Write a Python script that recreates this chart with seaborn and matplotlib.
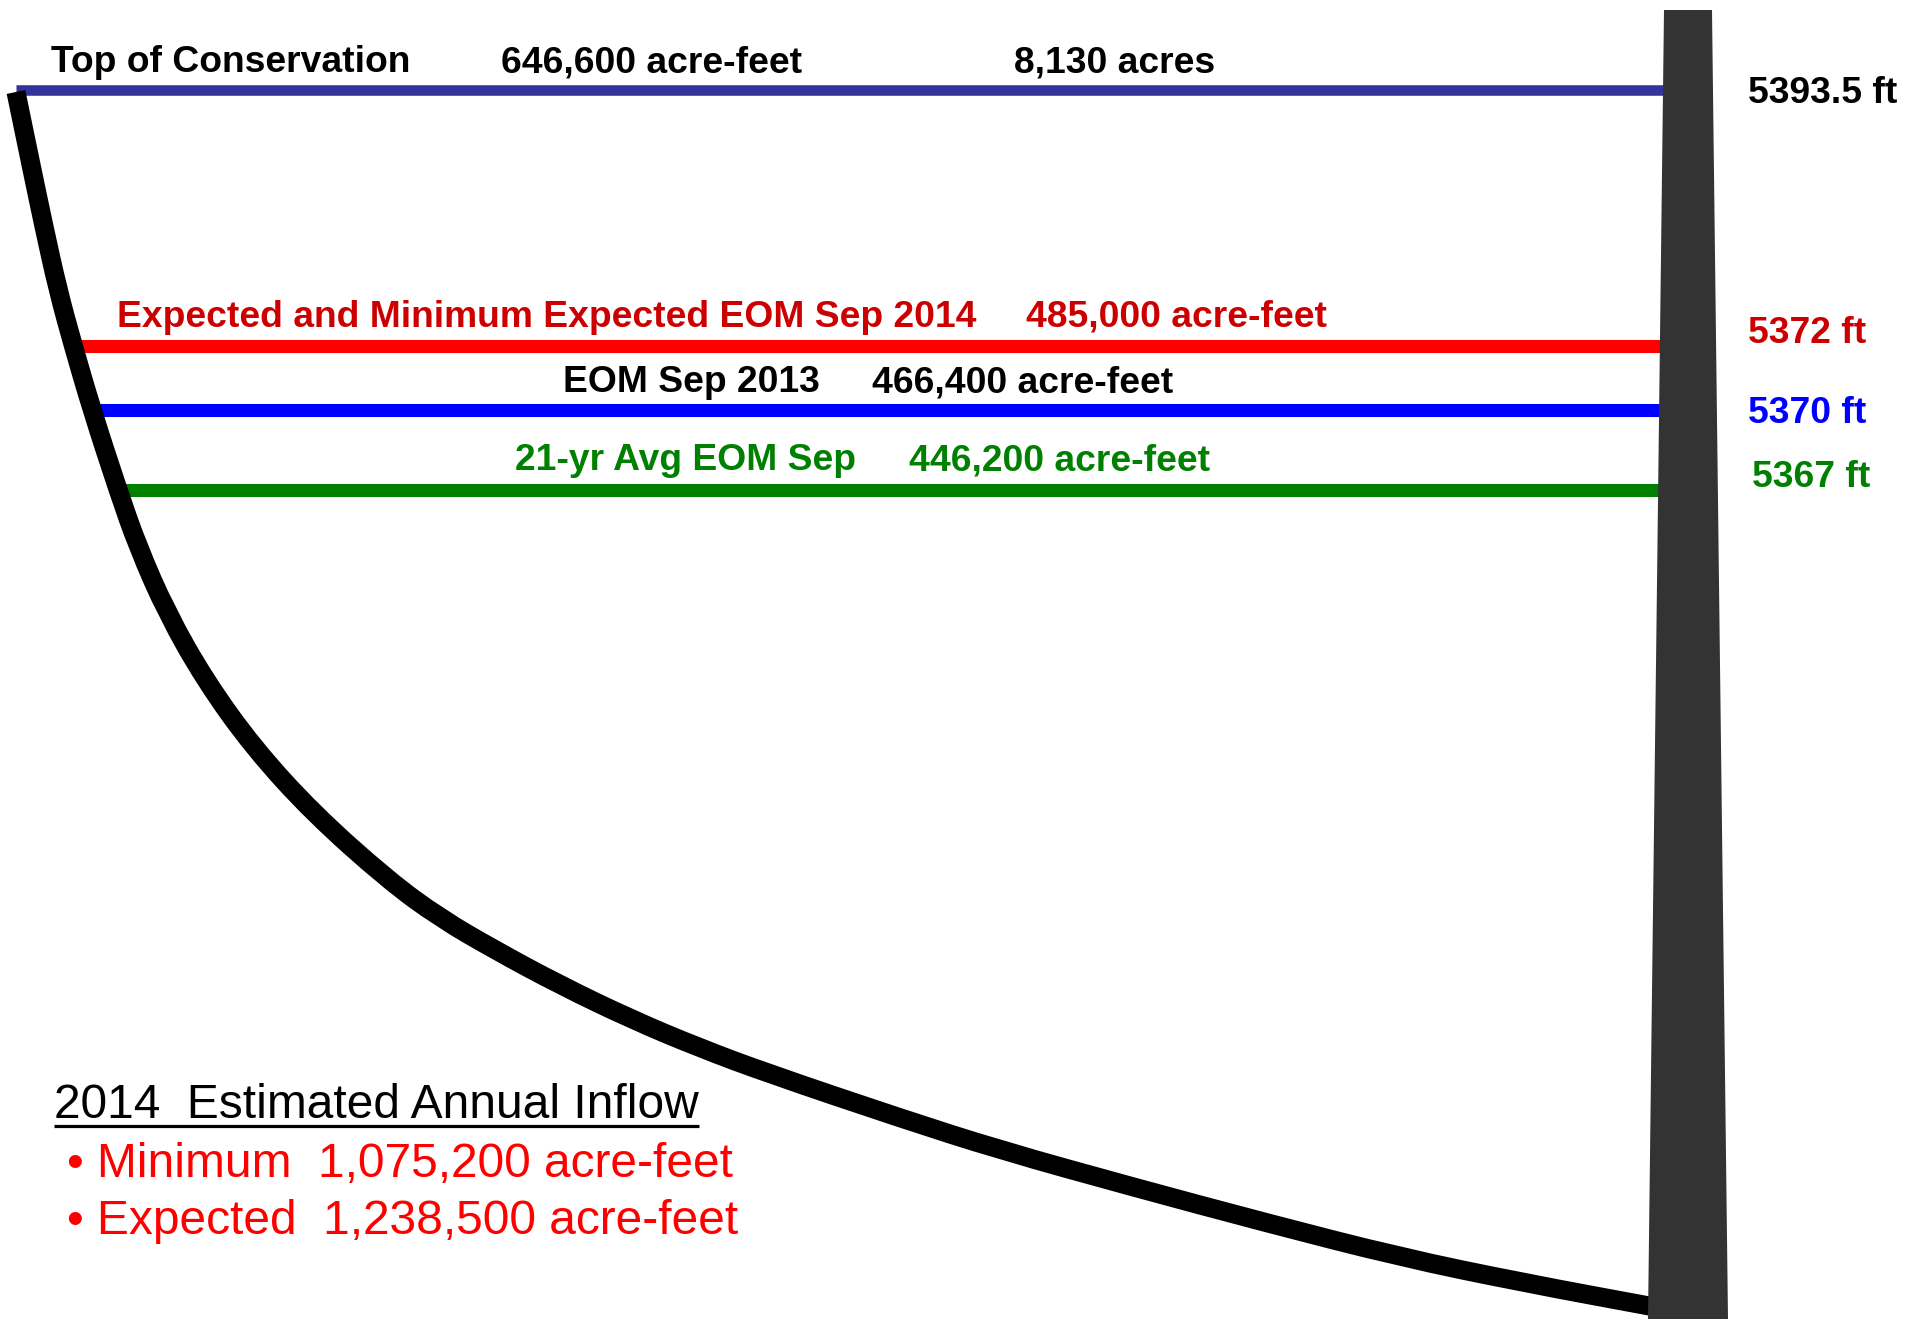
import numpy as np
import pandas as pd
import matplotlib
matplotlib.use("Agg")
import matplotlib.pyplot as plt
from matplotlib.path import Path
from matplotlib.patches import PathPatch
import seaborn as sns

# ---------------- data ----------------
level_names = ["Top of Conservation",
               "Expected and Minimum Expected EOM Sep 2014",
               "EOM Sep 2013",
               "21-yr Avg EOM Sep"]
level_storage_af = [646600, 485000, 466400, 446200]
level_elev_ft = [5393.5, 5372, 5370, 5367]
level_extra = ["8,130 acres", None, None, None]
# schematic row (vertical position on the sketch) of each level
level_rows = [90, 346, 410, 490]
line_colors = ["#333399", "#FF0000", "#0000FF", "#008000"]
name_colors = ["#000000", "#CC0000", "#000000", "#008000"]
elev_colors = ["#000000", "#CC0000", "#0000FF", "#008000"]

# reservoir bank profile (schematic)
bank_x = [16, 30, 44, 58, 73, 92, 118, 138, 167, 205, 253, 313, 388, 440,
          495, 560, 633, 700, 767, 900, 1000, 1133, 1267, 1400, 1520, 1660]
bank_y = [92, 160, 227, 290, 345, 410, 490, 547, 613, 680, 747, 813, 880,
          918, 950, 985, 1020, 1048, 1073, 1118, 1150, 1187, 1223, 1257,
          1282, 1308]

inflow_title = "2014  Estimated Annual Inflow"
inflow_labels = ["Minimum", "Expected"]
inflow_af = [1075200, 1238500]

# ---------------- figure ----------------
sns.set_theme(style="white")
plt.rcParams["font.family"] = ["Liberation Sans", "DejaVu Sans"]

W, H = 1905, 1319
fig = plt.figure(figsize=(W / 100, H / 100), dpi=100)
ax = fig.add_axes([0, 0, 1, 1])
ax.set_xlim(0, W)
ax.set_ylim(H, 0)
ax.axis("off")

# level lines: start where they meet the bank, end in the dam
dam_x = 1690
rows = []
for i, (name, y) in enumerate(zip(level_names, level_rows)):
    x0 = np.interp(y, bank_y, bank_x) if i > 0 else bank_x[0]
    rows.append({"level": name, "x": x0, "y": y})
    rows.append({"level": name, "x": dam_x, "y": y})
lv = pd.DataFrame(rows)
widths = [7.6, 9.4, 9.4, 9.4]
for name, col, lw in zip(level_names, line_colors, widths):
    sub = lv[lv["level"] == name]
    sns.lineplot(data=sub, x="x", y="y", color=col, lw=lw, ax=ax,
                 estimator=None, sort=False, legend=False,
                 solid_capstyle="butt", zorder=1)

# bank: smooth stroke through the read profile points
pts = np.column_stack([bank_x, bank_y]).astype(float)
verts = [pts[0], (pts[0] + pts[1]) / 2]
codes = [Path.MOVETO, Path.LINETO]
for i in range(1, len(pts) - 1):
    verts += [pts[i], (pts[i] + pts[i + 1]) / 2]
    codes += [Path.CURVE3, Path.CURVE3]
verts.append(pts[-1])
codes.append(Path.LINETO)
bank_patch = PathPatch(Path(verts, codes), fill=False, edgecolor="black",
                       lw=13.7, capstyle="butt", joinstyle="round",
                       zorder=2)
ax.add_patch(bank_patch)

# dam
ax.fill([1664, 1712, 1728, 1648], [10, 10, H, H], color="#333333",
        zorder=3, lw=0)

ax.set_xlabel("")
ax.set_ylabel("")

# ---------------- text ----------------
fs = 26.8
bold = dict(fontsize=fs, fontweight="bold", va="baseline", ha="left")

name_pos = [(51, 72), (117, 327), (563, 392), (515, 470)]
stor_pos = [(501, 72), (1026, 327), (872, 392), (909, 470)]
elev_pos = [(1748, 103), (1748, 343), (1748, 423), (1752, 487)]
for i in range(4):
    ax.text(*name_pos[i], level_names[i], color=name_colors[i], **bold)
    ax.text(*stor_pos[i], f"{level_storage_af[i]:,} acre-feet",
            color=name_colors[i], **bold)
    ev_s = f"{level_elev_ft[i]:g} ft"
    ax.text(*elev_pos[i], ev_s, color=elev_colors[i], **bold)
ax.text(1014, 72, level_extra[0], color="black", **bold)

# inflow box
fs2 = 34.5
t = ax.text(54, 1118, inflow_title, fontsize=fs2, color="black",
            va="baseline", ha="left")
fig.canvas.draw()
bb = t.get_window_extent().transformed(ax.transData.inverted())
ax.plot([bb.x0, bb.x1], [1126, 1126], color="black", lw=2.3,
        solid_capstyle="butt")

inflow_base = [1177, 1234]
for lab, val, yb in zip(inflow_labels, inflow_af, inflow_base):
    ax.text(66, yb, "\u2022", fontsize=fs2, color="#FF0000",
            va="baseline", ha="left")
    ax.text(97, yb, f"{lab}  {val:,} acre-feet", fontsize=fs2,
            color="#FF0000", va="baseline", ha="left")

fig.savefig("out.png", dpi=100, facecolor="white")
